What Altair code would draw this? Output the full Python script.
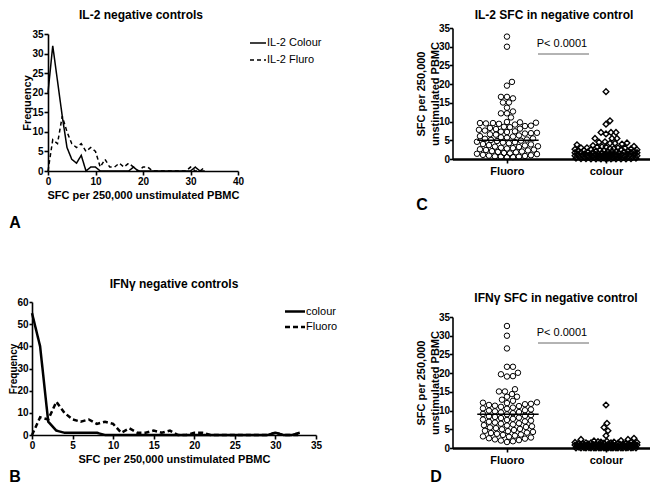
import math
import altair as alt
import pandas as pd

# ---------------- values ----------------
sfc_bins = list(range(34))

il2_series = ["IL-2 Colour", "IL-2 Fluro"]
il2_colour_freq = [20, 32, 23, 14, 6, 3, 2, 4, 0, 1,
                   1, 0, 0, 0, 0, 0, 0, 0, 1, 0,
                   0, 0, 0, 0, 0, 0, 0, 0, 0, 0,
                   0, 1, 0, 0]
il2_fluro_freq = [0, 8, 7, 14, 10, 7, 6, 7, 5, 6,
                  5, 1, 3, 1, 1, 2, 1, 2, 1, 0,
                  1, 1, 0, 0, 0, 0, 0, 0, 0, 0,
                  1, 0, 0, 1]

ifng_series = ["colour", "Fluoro"]
ifng_colour_freq = [55, 40, 6, 2, 1, 1, 1, 1, 1, 0,
                    0, 0, 0, 0, 0, 0, 0, 0, 0, 0,
                    0, 0, 0, 0, 0, 0, 0, 0, 0, 0,
                    1, 0, 0, 1]
ifng_fluoro_freq = [0, 8, 7, 15, 10, 7, 6, 7, 5, 6,
                    5, 1, 3, 1, 1, 2, 1, 2, 0, 0,
                    1, 1, 0, 0, 0, 0, 0, 0, 0, 0,
                    1, 0, 0, 0]

groups = ["Fluoro", "colour"]

il2_fluoro_sfc = [32.7, 30.0, 20.6, 19.6, 16.6, 16.2, 16.6, 15.1, 15.1, 13.7, 12.7, 12.2, 12.2, 11.1,
                  9.9, 9.8, 9.7, 9.6, 9.6, 9.5, 9.4, 9.2, 8.9, 8.8, 8.6, 8.5, 8.3, 8.1, 8.0, 7.8,
                  7.6, 7.4, 7.3, 7.2, 7.0, 6.9, 6.8, 6.6, 6.5, 6.3, 6.1, 6.0, 5.8, 5.7, 5.5, 5.4,
                  5.2, 5.1, 4.9, 4.8, 4.6, 4.5, 4.4, 4.2, 4.0, 3.9, 3.7, 3.6, 3.4, 3.3, 3.2, 3.0,
                  2.9, 2.8, 2.6, 2.5, 2.4, 2.3, 2.1, 2.0, 1.9, 1.8, 1.6, 1.5, 1.4, 1.3, 1.1, 1.0,
                  0.9, 0.8, 0.7, 0.6, 0.6, 0.5, 0.5]
il2_colour_sfc = [18.0, 10.2, 9.3, 7.1, 7.1, 7.1, 6.7, 5.5, 5.5, 5.5, 4.6, 4.5, 4.3, 4.2, 4.2,
                  4.0, 3.8, 3.6, 3.4, 3.3, 3.2, 3.2, 3.0, 3.0, 3.0, 2.9, 2.8, 2.8, 2.7, 2.6,
                  2.5, 2.5, 2.5, 2.4, 2.3, 2.3, 2.2, 2.2, 2.1, 2.0, 2.0, 2.0, 2.0, 1.9, 1.9,
                  1.8, 1.8, 1.8, 1.7, 1.7, 1.6, 1.6, 1.5, 1.5, 1.5, 1.5, 1.4, 1.4, 1.3, 1.3,
                  1.3, 1.2, 1.2, 1.1, 1.1, 1.0, 1.0, 1.0, 1.0, 1.0, 0.9, 0.9, 0.9, 0.8, 0.8,
                  0.8, 0.7, 0.7, 0.7, 0.6, 0.6, 0.6, 0.5, 0.5, 0.5, 0.5, 0.4, 0.4, 0.4, 0.3,
                  0.3, 0.3, 0.2, 0.2, 0.2, 0.1, 0.1, 0.1, 0.0, 0.0, 0.0, 0.0, 0.0, 0.0, 0.0,
                  0.0]
ifng_fluoro_sfc = [32.6, 30.0, 26.6, 21.7, 21.7, 19.7, 19.1, 19.2, 20.1, 15.7, 15.1, 15.1, 14.4,
                   13.7, 13.7, 12.9, 12.6, 12.2, 12.1, 12.0, 11.8, 11.7, 11.5, 11.3, 11.2, 11.0,
                   10.8, 10.6, 10.5, 10.3, 10.1, 10.0, 9.8, 9.6, 9.5, 9.3, 9.1, 9.0, 8.8, 8.6,
                   8.5, 8.3, 8.1, 8.0, 7.8, 7.6, 7.5, 7.3, 7.1, 7.0, 6.8, 6.6, 6.5, 6.3, 6.1,
                   6.0, 5.8, 5.6, 5.5, 5.3, 5.1, 5.0, 4.8, 4.6, 4.5, 4.3, 4.1, 4.0, 3.8, 3.6,
                   3.5, 3.3, 3.1, 3.0, 2.8, 2.6, 2.5, 2.3, 2.1, 2.0, 1.8, 1.6]
ifng_colour_sfc = [11.5, 6.6, 5.5, 4.6, 3.3, 2.6, 2.3, 2.3, 2.0, 1.9, 1.8, 1.7, 1.6, 1.6, 1.5,
                   1.5, 1.5, 1.4, 1.4, 1.4, 1.3, 1.3, 1.3, 1.2, 1.2, 1.2, 1.1, 1.1, 1.1, 1.0,
                   1.0, 1.0, 1.0, 0.9, 0.9, 0.9, 0.9, 0.8, 0.8, 0.8, 0.8, 0.7, 0.7, 0.7, 0.7,
                   0.6, 0.6, 0.6, 0.6, 0.5, 0.5, 0.5, 0.5, 0.5, 0.4, 0.4, 0.4, 0.4, 0.3, 0.3,
                   0.3, 0.3, 0.2, 0.2, 0.2, 0.2, 0.1, 0.1, 0.1, 0.1, 0.0, 0.0, 0.0, 0.0, 0.0,
                   0.0, 0.0, 0.0, 0.0, 0.0, 0.0, 0.0, 0.0, 0.0, 0.0, 0.0, 0.0, 0.0, 0.0, 0.0]

il2_group_lines = [5.0, 1.5]     # horizontal bars drawn in panel C
ifng_group_lines = [9.0, 0.8]    # horizontal bars drawn in panel D
p_label = "P< 0.0001"

# ---------------- layout (pixels inside the chart) ----------------
W, H = 642, 480
FONT = "Liberation Sans"
DOT_XR = [444.5, 647.5]
DOT_XDOM = [-0.05, 2.0]
PX_PER_UNIT = 131 / 35
UNITS_PER_PX = (DOT_XDOM[1] - DOT_XDOM[0]) / (DOT_XR[1] - DOT_XR[0])
CENTERS = [0.5, 1.5]


def axis_style(**kw):
    base = dict(grid=False, domainColor="black", domainWidth=1.6, tickColor="black",
                tickWidth=1.6, tickSize=4, labelFont=FONT, labelFontSize=10,
                labelFontWeight="bold", labelColor="black", labelPadding=1,
                titleFont=FONT, titleFontSize=11, titleFontWeight="bold",
                titleColor="black", titlePadding=2, labelFlush=False, labelOverlap=False)
    base.update(kw)
    return alt.Axis(**base)


def freq_frame(first, second, names):
    rows = []
    for name, vals in zip(names, [first, second]):
        for b, v in zip(sfc_bins, vals):
            rows.append({"sfc": b, "freq": v, "series": name})
    return pd.DataFrame(rows)


def line_panel(df, names, xdom, xticks, xr, ydom, yticks, yr, width, dash, ytitle_x, ytitle_size, ytick):
    xs = alt.Scale(domain=xdom, range=xr, nice=False, zero=False)
    ys = alt.Scale(domain=ydom, range=yr, nice=False, zero=False)
    return alt.Chart(df).mark_line(color="black", strokeWidth=width).encode(
        x=alt.X("sfc:Q", scale=xs,
                axis=axis_style(orient="bottom", offset=yr[0] - H, values=xticks,
                                title="SFC per 250,000 unstimulated PBMC", titlePadding=3)),
        y=alt.Y("freq:Q", scale=ys,
                axis=axis_style(orient="left", offset=-xr[0], values=yticks, tickSize=ytick,
                                title="Frequency", titleX=ytitle_x, titleY=(yr[0] + yr[1]) / 2,
                                titleBaseline="bottom", titleFontSize=ytitle_size)),
        strokeDash=alt.StrokeDash("series:N", scale=alt.Scale(domain=names, range=[[1, 0], dash]),
                                  legend=None),
    )


def swarm(values, diam, step, half):
    order = sorted(range(len(values)), key=lambda i: (values[i], i))
    cands = [0.0]
    k = 1
    while k * step <= half:
        cands += [k * step, -k * step]
        k += 1
    placed, offs = [], [0.0] * len(values)
    for i in order:
        y = values[i] * PX_PER_UNIT
        best, best_d = 0.0, -1.0
        for c in cands:
            d = min((math.hypot(c - px, y - py) for px, py in placed), default=1e9)
            if d >= diam:
                best = c
                break
            if d > best_d:
                best, best_d = c, d
        placed.append((best, y))
        offs[i] = best
    return offs


def dot_panel(fluoro_vals, colour_vals, line_vals, yr):
    rows = []
    for g, vals, diam, half in [(0, fluoro_vals, 5.6, 31), (1, colour_vals, 5.0, 31)]:
        offs = swarm(vals, diam, 1.0, half)
        for v, o in zip(vals, offs):
            rows.append({"group": groups[g], "pos": CENTERS[g] + o * UNITS_PER_PX, "sfc": v})
    pts = pd.DataFrame(rows)
    lines = pd.DataFrame({"group": groups, "value": line_vals,
                          "x0": [c - 0.30 for c in CENTERS], "x1": [c + 0.32 for c in CENTERS]})

    def xs():
        return alt.Scale(domain=DOT_XDOM, range=DOT_XR, nice=False, zero=False)

    def ys():
        return alt.Scale(domain=[0, 35], range=yr, nice=False, zero=False)

    xaxis = axis_style(orient="bottom", offset=yr[0] - H, values=CENTERS, title=None,
                       labelExpr="datum.value < 1 ? 'Fluoro' : 'colour'", labelFontSize=11,
                       domainWidth=2.4, labelPadding=2)
    yaxis = axis_style(orient="left", offset=-DOT_XR[0], values=[0, 5, 10, 15, 20, 25, 30, 35],
                       tickSize=3, labelPadding=0,
                       title=["SFC per 250,000", "unstimulated PBMC"], titleFontSize=11,
                       titleX=-26, titleY=(yr[0] + yr[1]) / 2, titleBaseline="bottom",
                       titleLineHeight=13.5)
    circles = alt.Chart(pts).transform_filter(alt.datum.group == "Fluoro").mark_point(
        shape="circle", filled=False, size=30, stroke="black", strokeWidth=1, opacity=1
    ).encode(x=alt.X("pos:Q", scale=xs(), axis=xaxis), y=alt.Y("sfc:Q", scale=ys(), axis=yaxis))
    diamonds = alt.Chart(pts).transform_filter(alt.datum.group == "colour").mark_point(
        shape="diamond", filled=False, size=32, stroke="black", strokeWidth=1.4, opacity=1
    ).encode(x=alt.X("pos:Q", scale=xs(), axis=None), y=alt.Y("sfc:Q", scale=ys(), axis=None))
    bars = alt.Chart(lines).mark_rule(color="black", strokeWidth=1.5).encode(
        x=alt.X("x0:Q", scale=xs(), axis=None), x2="x1:Q", y=alt.Y("value:Q", scale=ys(), axis=None))
    return [circles, diamonds, bars]


def text(t, x, y, size, weight="normal", align="center", baseline="alphabetic", color="black"):
    return alt.Chart(pd.DataFrame({"t": [t]})).mark_text(
        font=FONT, fontSize=size, fontWeight=weight, align=align, baseline=baseline,
        color=color
    ).encode(x=alt.value(x), y=alt.value(y), text="t:N")


def rule(x1, x2, y, width, color="black", dash=None):
    props = dict(color=color, strokeWidth=width)
    if dash:
        props["strokeDash"] = dash
    return alt.Chart(pd.DataFrame({"k": [0]})).mark_rule(**props).encode(
        x=alt.value(x1), x2=alt.value(x2), y=alt.value(y))


panel_a = line_panel(freq_frame(il2_colour_freq, il2_fluro_freq, il2_series), il2_series,
                     [0, 40], [0, 10, 20, 30, 40], [40, 230],
                     [0, 35], [0, 5, 10, 15, 20, 25, 30, 35], [163, 26], 1.5, [4, 3], -16, 11, 4)
panel_b = line_panel(freq_frame(ifng_colour_freq, ifng_fluoro_freq, ifng_series), ifng_series,
                     [0, 35], [0, 5, 10, 15, 20, 25, 30, 35], [24, 308],
                     [0, 60], [0, 10, 20, 30, 40, 50, 60], [427, 294], 2.5, [5, 3], -14, 10, 3)
panel_c = dot_panel(il2_fluoro_sfc, il2_colour_sfc, il2_group_lines, [151, 20])
panel_d = dot_panel(ifng_fluoro_sfc, ifng_colour_sfc, ifng_group_lines, [440, 309])

notes = [
    text("IL-2 negative controls", 133, 10.5, 12, "bold"),
    text("IFN\u03b3 negative controls", 166, 279.5, 12, "bold"),
    text("IL-2 SFC in negative control", 546, 10.5, 12, "bold"),
    text("IFN\u03b3 SFC in negative control", 548, 293.5, 12, "bold"),
    rule(242, 258, 35, 1.5), text(il2_series[0], 259, 35, 11, align="left", baseline="middle"),
    rule(242, 258, 52, 1.5, dash=[4, 3]), text(il2_series[1], 259, 52, 11, align="left", baseline="middle"),
    rule(277, 297, 303.5, 2.5), text(ifng_series[0], 298, 303.5, 11, align="left", baseline="middle"),
    rule(277, 297, 319, 2.5, dash=[5, 3]), text(ifng_series[1], 298, 319, 11, align="left", baseline="middle"),
    text(p_label, 554, 35.5, 11, baseline="middle", color="black"),
    rule(530, 581, 46, 1, color="dimgray"),
    text(p_label, 554, 324.5, 11, baseline="middle", color="black"),
    rule(530, 581, 335, 1, color="dimgray"),
    text("A", 7, 215, 16, "bold", baseline="middle"),
    text("B", 7, 469, 16, "bold", baseline="middle"),
    text("C", 414, 197, 16, "bold", baseline="middle"),
    text("D", 428, 469, 16, "bold", baseline="middle"),
]

chart = alt.layer(panel_a, panel_b, *panel_c, *panel_d, *notes).resolve_scale(
    x="independent", y="independent", strokeDash="independent"
).properties(
    width=W, height=H, padding=0, autosize=alt.AutoSizeParams(type="none")
).configure_view(stroke=None)

chart.save("out.html", embed_options={"renderer": "svg", "actions": False})
